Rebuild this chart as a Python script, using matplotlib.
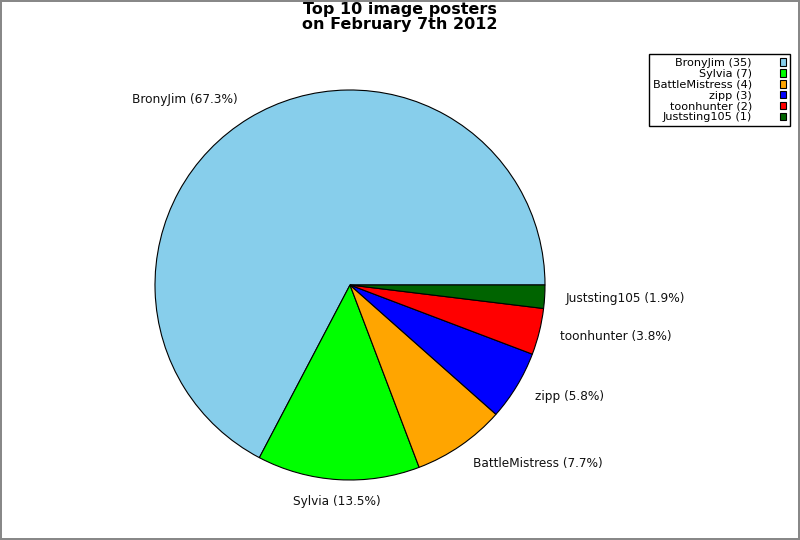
import numpy as np
import matplotlib
matplotlib.use('Agg')
from matplotlib import pyplot as plt
from matplotlib.patches import Patch

names = ['BronyJim', 'Sylvia', 'BattleMistress', 'zipp', 'toonhunter', 'Juststing105']
counts = [35, 7, 4, 3, 2, 1]
colors = ['#87ceeb', '#00ff00', '#ffa500', '#0000ff', '#ff0000', '#006400']

total = sum(counts)
labels = [f'{n} ({c / total * 100:.1f}%)' for n, c in zip(names, counts)]
legend_labels = [f'{n} ({c})' for n, c in zip(names, counts)]

fig = plt.figure(figsize=(8, 5.4), dpi=100)
fig.patch.set_edgecolor('#888888')
fig.patch.set_linewidth(1.5)

# pie centred at (350, 285) px, radius ~195 px
ax = fig.add_axes([155 / 800, 60 / 540, 390 / 800, 390 / 540])
wedges, texts = ax.pie(counts, labels=labels, colors=colors, startangle=0,
                       counterclock=True, labeldistance=1.11,
                       wedgeprops=dict(edgecolor='black', linewidth=0.8),
                       textprops=dict(fontsize=8.7, color='#111111'))
ax.set_xlim(-1, 1)
ax.set_ylim(-1, 1)

# labels near the bottom are centred, the rest left/right
for w, t in zip(wedges, texts):
    ang = np.deg2rad((w.theta1 + w.theta2) / 2)
    if abs(np.cos(ang)) < 0.15:
        t.set_ha('center')

fig.text(0.5, 1 - 17 / 540, 'Top 10 image posters\non February 7th 2012',
         ha='center', va='center', fontsize=11.5, fontweight='bold',
         linespacing=0.92)

handles = [Patch(facecolor=c, edgecolor='black', linewidth=0.8) for c in colors]
leg = fig.legend(handles, legend_labels, loc='upper right',
                 bbox_to_anchor=(790 / 800, 1 - 54 / 540),
                 markerfirst=False, fontsize=8.1, labelspacing=0.08,
                 handlelength=0.55, handleheight=0.65, handletextpad=2.5,
                 borderpad=0.35, borderaxespad=0, fancybox=False,
                 framealpha=1, edgecolor='black')
leg.get_frame().set_linewidth(1.0)

fig.savefig('out.png', dpi=100)
